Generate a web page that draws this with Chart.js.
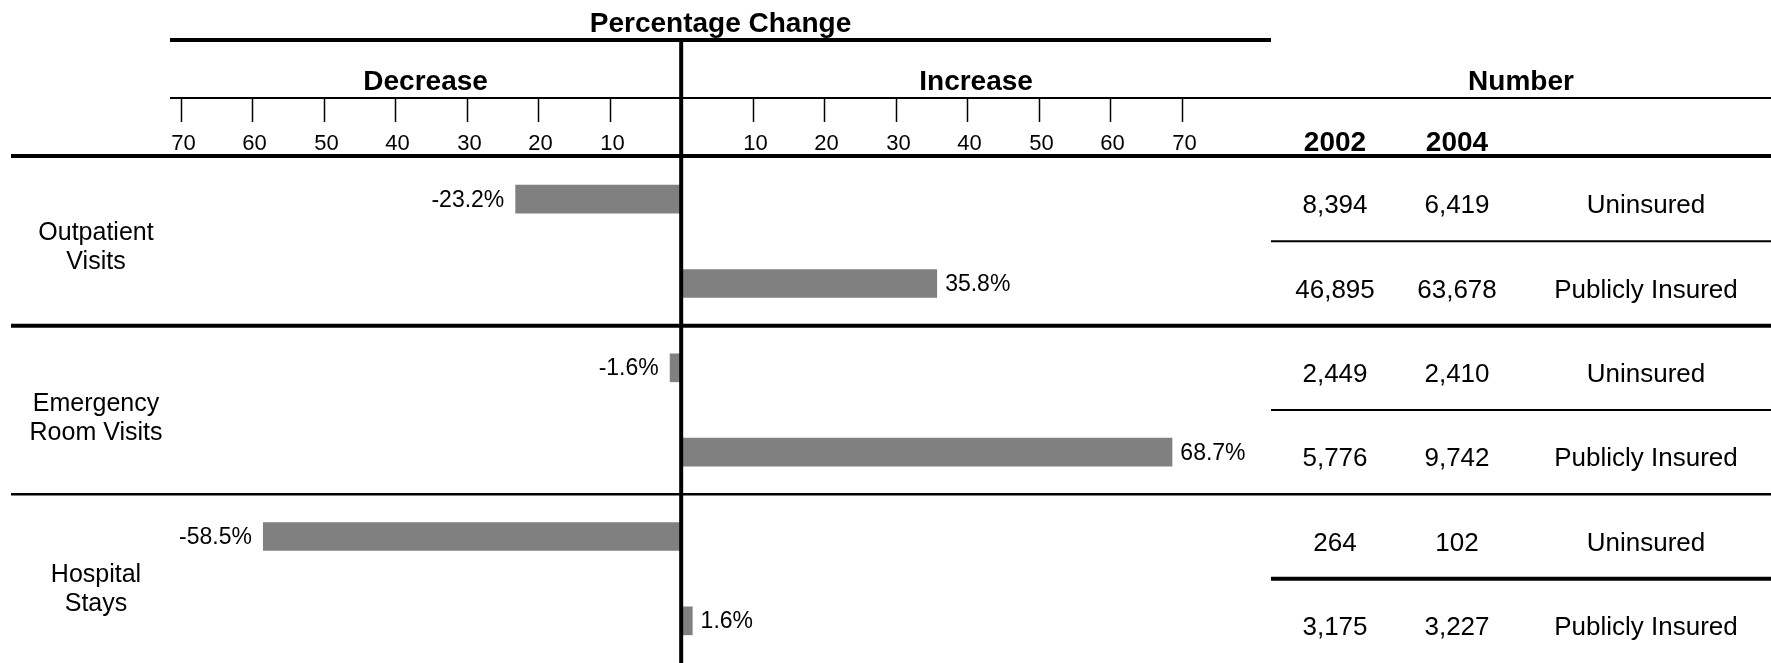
<!DOCTYPE html>
<html>
<head>
<meta charset="utf-8">
<title>Percentage Change</title>
<script src="https://cdn.jsdelivr.net/npm/chart.js@4"></script>
<style>
  html, body { margin: 0; padding: 0; background: #fff; }
  canvas { display: block; }
</style>
</head>
<body>
<canvas id="changeChart" width="1771" height="663"></canvas>
<script>
// one bar per row: uninsured / publicly insured inside each service group
const rowLabels = ["Uninsured", "Publicly Insured", "Uninsured", "Publicly Insured", "Uninsured", "Publicly Insured"];
const groupLabels = [["Outpatient", "Visits"], ["Emergency", "Room Visits"], ["Hospital", "Stays"]];
const pctChange = [-23.2, 35.8, -1.6, 68.7, -58.5, 1.6];
const count2002 = [8394, 46895, 2449, 5776, 264, 3175];
const count2004 = [6419, 63678, 2410, 9742, 102, 3227];
const yearLabels = ["2002", "2004"];
const tickValues = [-70, -60, -50, -40, -30, -20, -10, 10, 20, 30, 40, 50, 60, 70];

const FONT = '"Liberation Sans", Arial, Helvetica, sans-serif';

// header, ruling lines, value labels and the number table
const tablePlugin = {
  id: "tableLayout",
  afterDatasetsDraw(chart) {
    const { ctx, chartArea, scales } = chart;
    const x = scales.x, y = scales.y;
    const W = chart.width, H = chart.height;
    const zeroX = x.getPixelForValue(0);
    const left = chartArea.left, right = chartArea.right;
    const rowY = i => y.getPixelForValue(i);
    const between = i => (rowY(i) + rowY(i + 1)) / 2;

    const hline = (yy, x0, x1, w) => {
      ctx.beginPath();
      ctx.lineWidth = w;
      ctx.strokeStyle = "#000";
      ctx.moveTo(x0, yy);
      ctx.lineTo(x1, yy);
      ctx.stroke();
    };
    const text = (str, tx, ty, size, bold, align) => {
      ctx.font = (bold ? "bold " : "") + size + "px " + FONT;
      ctx.fillStyle = "#000";
      ctx.textAlign = align || "center";
      ctx.textBaseline = "middle";
      ctx.fillText(str, tx, ty);
    };

    ctx.save();

    // value labels next to each bar
    const meta = chart.getDatasetMeta(0);
    meta.data.forEach((bar, i) => {
      const v = pctChange[i];
      const label = v.toFixed(1) + "%";
      if (v < 0) text(label, bar.x - 11, bar.y + 1, 23, false, "right");
      else text(label, bar.x + 8, bar.y + 1, 23, false, "left");
    });

    // titles
    text("Percentage Change", (left + right) / 2, 24, 28, true);
    hline(40, left, right, 4);
    text("Decrease", (left + zeroX) / 2, 82, 28, true);
    text("Increase", (zeroX + right) / 2, 82, 28, true);
    text("Number", (right + W) / 2, 82, 28, true);
    hline(98, left, W, 2);

    // scale ticks hanging below the header line
    ctx.lineWidth = 1.5;
    tickValues.forEach(t => {
      const px = Math.round(x.getPixelForValue(t)) + 0.5;
      ctx.beginPath();
      ctx.moveTo(px, 98);
      ctx.lineTo(px, 122);
      ctx.stroke();
      text(String(Math.abs(t)), px + 2, 144, 22, false);
    });

    // table columns
    const col2002 = right + 64, col2004 = right + 186, colType = right + 375;
    text(yearLabels[0], col2002, 143, 28, true);
    text(yearLabels[1], col2004, 143, 28, true);

    rowLabels.forEach((lab, i) => {
      const ty = rowY(i) + 7;
      text(count2002[i].toLocaleString("en-US"), col2002, ty, 26, false);
      text(count2004[i].toLocaleString("en-US"), col2004, ty, 26, false);
      text(lab, colType, ty, 26, false);
    });

    // group names on the left
    groupLabels.forEach((lines, g) => {
      const cy = (rowY(g * 2) + rowY(g * 2 + 1)) / 2 + 6 + g * 2;
      text(lines[0], 96, cy - 14, 25, false);
      text(lines[1], 96, cy + 15, 25, false);
    });

    // ruling lines
    hline(chartArea.top - 1, 11, W, 4);
    hline(between(1), 11, W, 4);
    hline(between(3), 11, W, 2.5);
    hline(between(0), right, W, 2);
    hline(between(2), right, W, 2);
    hline(between(4), right, W, 4);

    // zero line
    ctx.beginPath();
    ctx.lineWidth = 4;
    ctx.moveTo(zeroX, 38);
    ctx.lineTo(zeroX, H);
    ctx.stroke();

    ctx.restore();
  }
};

new Chart(document.getElementById("changeChart").getContext("2d"), {
  type: "bar",
  data: {
    labels: rowLabels,
    datasets: [
      {
        label: "Percentage Change",
        data: pctChange,
        backgroundColor: "#808080",
        borderWidth: 0,
        barPercentage: 0.34,
        categoryPercentage: 1,
      },
    ],
  },
  options: {
    indexAxis: "y",
    responsive: false,
    animation: false,
    layout: {
      padding: { left: 170, right: 500, top: 157, bottom: 0 },
    },
    scales: {
      x: { type: "linear", min: -71.5, max: 82.5, display: false },
      y: { display: false },
    },
    plugins: {
      legend: { display: false },
      tooltip: { enabled: false },
    },
  },
  plugins: [tablePlugin],
});
</script>
</body>
</html>
